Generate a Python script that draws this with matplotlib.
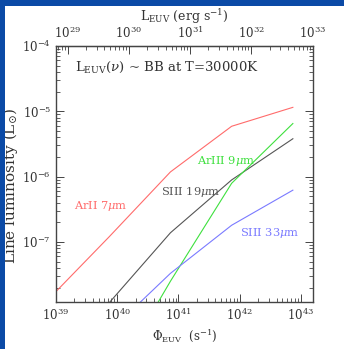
import matplotlib
matplotlib.use("Agg")
import matplotlib.pyplot as plt
from matplotlib.patches import Rectangle
import numpy as np

plt.rcParams['font.family'] = ['DejaVu Serif']
plt.rcParams['mathtext.fontset'] = 'dejavuserif'

# ionizing photon rate (s^-1)
phi = [7.4e38, 7.4e39, 7.4e40, 7.4e41, 7.4e42]

# line luminosities (L_sun)
arII_7 = [1.3e-8, 1.2e-7, 1.18e-6, 5.9e-6, 1.15e-5]
siii_19 = [1.1e-9, 1.17e-8, 1.38e-7, 8.9e-7, 3.8e-6]
arIII_9 = [2.0e-11, 6.3e-10, 2.5e-8, 7.9e-7, 6.5e-6]
siii_33 = [5.0e-10, 4.2e-9, 3.3e-8, 1.8e-7, 6.2e-7]

top_ticks = [1e29, 1e30, 1e31, 1e32, 1e33]

# L_EUV / Phi_EUV (erg per photon)
e_photon = 10**-10.19

RED = '#ff6b6b'
GRAY = '#555555'
GREEN = '#3ee03e'
BLUE = '#7a7aff'
INK = '#333333'

W, H = 344, 349
fig = plt.figure(figsize=(W/100, H/100), dpi=100)
fig.patch.set_facecolor('white')
fig.add_artist(Rectangle((0, 0), 5/W, 1, transform=fig.transFigure,
                         facecolor='#0b4aa6', edgecolor='none'))
fig.add_artist(Rectangle((0, 1-6/H), 1, 6/H, transform=fig.transFigure,
                         facecolor='#0b4aa6', edgecolor='none'))

ax = fig.add_axes([56/W, 1-302/H, (312.5-56)/W, (302-46)/H])
ax.set_xscale('log')
ax.set_yscale('log')

lw = 0.8
ax.plot(phi, arII_7, color=RED, lw=lw)
ax.plot(phi, siii_19, color=GRAY, lw=lw)
ax.plot(phi, arIII_9, color=GREEN, lw=lw)
ax.plot(phi, siii_33, color=BLUE, lw=lw)

ax.set_xlim(1e39, 10**43.19)
ax.set_ylim(10**-7.92, 1e-4)

fs = 8.2
ax.text(10**39.31, 10**-4.33, r'L$_{\rm EUV}$($\nu$) ~ BB at T=30000K',
        fontsize=9.5, color=INK, va='center')
ax.text(10**39.30, 10**-6.45, r'ArII 7$\mu$m', fontsize=fs, color=RED, va='center')
ax.text(10**41.30, 10**-5.76, r'ArIII 9$\mu$m', fontsize=fs, color=GREEN, va='center')
ax.text(10**40.72, 10**-6.23, r'SIII 19$\mu$m', fontsize=fs, color=GRAY, va='center')
ax.text(10**42.0, 10**-6.87, r'SIII 33$\mu$m', fontsize=fs, color=BLUE, va='center')

ax.set_xlabel(r'$\Phi_{\rm EUV}$  (s$^{-1}$)', fontsize=8.5, color=INK, labelpad=4)
ax.set_ylabel(r'Line luminosity (L$_{\odot}$)', fontsize=11, color=INK)
ax.yaxis.set_label_coords(-0.14, 0.455)

for s in ax.spines.values():
    s.set_color('#444444')
    s.set_linewidth(1.0)
ax.tick_params(which='both', direction='in', top=False, right=True,
               colors='#444444', labelcolor=INK, labelsize=8.5)
ax.tick_params(which='major', length=6, width=0.7)
ax.tick_params(which='minor', length=3, width=0.6)

sec = ax.secondary_xaxis('top', functions=(lambda x: x*e_photon, lambda x: x/e_photon))
sec.set_xticks(top_ticks)
sec.tick_params(which='both', direction='in', colors='#444444',
                labelcolor=INK, labelsize=8.5)
sec.tick_params(which='major', length=6, width=0.7)
sec.tick_params(which='minor', length=3, width=0.6)
sec.set_xlabel(r'L$_{\rm EUV}$ (erg s$^{-1}$)', fontsize=9, color=INK, labelpad=3)

fig.savefig('out.png', dpi=100, facecolor=fig.get_facecolor())
